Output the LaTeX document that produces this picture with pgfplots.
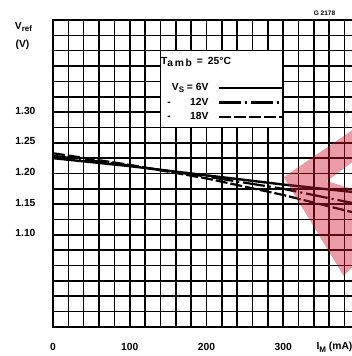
\documentclass[border=0pt]{standalone}
\usepackage{pgfplots}
\pgfplotsset{compat=1.18}
\usepackage{fontspec}
\setmainfont{Liberation Sans}
\definecolor{wm}{RGB}{209,23,47}
\newcommand{\lf}{\bfseries\fontsize{10.3}{12}\selectfont}
\pgfplotsset{legend image code/.code={\draw[#1] (0pt,0pt) -- (63pt,0pt);}}
\begin{document}
\begin{tikzpicture}[x=1pt,y=1pt]
\useasboundingbox (-53,-29) rectangle (299,327);
\clip (-53,-29) rectangle (299,327);
\begin{axis}[
  at={(0,0)}, anchor=south west,
  scale only axis, width=307pt, height=307pt,
  xmin=0, xmax=400, ymin=0.95, ymax=1.45,
  xtick={0,20,...,400},
  xticklabels={0,,,,,100,,,,,200,,,,,300,,,,,},
  ytick={0.95,0.975,1.0,1.025,1.05,1.075,1.1,1.125,1.15,1.175,1.2,1.225,1.25,1.275,1.3,1.325,1.35,1.375,1.4,1.425,1.45},
  yticklabels={,,,,,,1.10,,1.15,,1.20,,1.25,,1.30,,,,,,},
  grid=major, major grid style={black, line width=1.6pt},
  axis line style={line width=1.9pt},
  major tick length=0pt,
  tick label style={font=\lf},
  xticklabel style={yshift=-12.5pt},
  yticklabel style={xshift=-14pt, yshift=1.5pt},
  legend style={at={(0.3518,0.803)}, anchor=north west, draw=none, fill=none,
    inner sep=0pt, column sep=8pt, row sep=0pt, font=\lf,
    nodes={inner sep=1.25pt, text height=9pt, text depth=3pt}},
  legend plot pos=right,
  legend cell align=left,
]
\addplot[fill=white, draw=black, line width=1.6pt, forget plot]
  coordinates {(140,1.275)(300,1.275)(300,1.40)(140,1.40)(140,1.275)};
\addplot[black, line width=2.4pt]
  coordinates {(0,1.225)(100,1.212)(200,1.197)(300,1.182)(390,1.170)};
\addlegendentry{\makebox[46pt][r]{V\raisebox{-2pt}{\footnotesize S} = 6V}}
\addplot[black, line width=2.2pt, dash pattern=on 22pt off 4pt on 2pt off 4pt]
  coordinates {(0,1.229)(100,1.213)(200,1.195)(300,1.175)(390,1.152)};
\addlegendentry{\makebox[46pt][l]{\hspace{5pt}-\hfill 12V}}
\addplot[black, line width=2.2pt, dash pattern=on 12pt off 3pt]
  coordinates {(0,1.233)(100,1.214)(200,1.192)(300,1.165)(390,1.137)};
\addlegendentry{\makebox[46pt][l]{\hspace{5pt}-\hfill 18V}}
\addplot[fill=wm, fill opacity=0.43, draw=none, forget plot]
  coordinates {(300.6,1.194)(390,1.2707)(390,1.2186)(357,1.1876)(390,1.1746)(390,1.0476)(378.8,1.0329)(300.6,1.194)};
\node[anchor=west, font=\lf, inner sep=0pt] at (axis cs:140.5,1.3814) {T\raisebox{-2.5pt}{a\,m\,b}\hspace{5pt}=\hspace{5pt}25°C};
\end{axis}
\node[font=\lf] at (-29.5,300) {V\raisebox{-2pt}{\footnotesize ref}};
\node[font=\lf] at (-30.5,282) {(V)};
\node[font=\bfseries\fontsize{6.5}{8}\selectfont] at (271.5,314) {G 2178};
\node[anchor=west, font=\lf] at (260,-20) {I\raisebox{-3pt}{\footnotesize M} (mA)};
\end{tikzpicture}
\end{document}
